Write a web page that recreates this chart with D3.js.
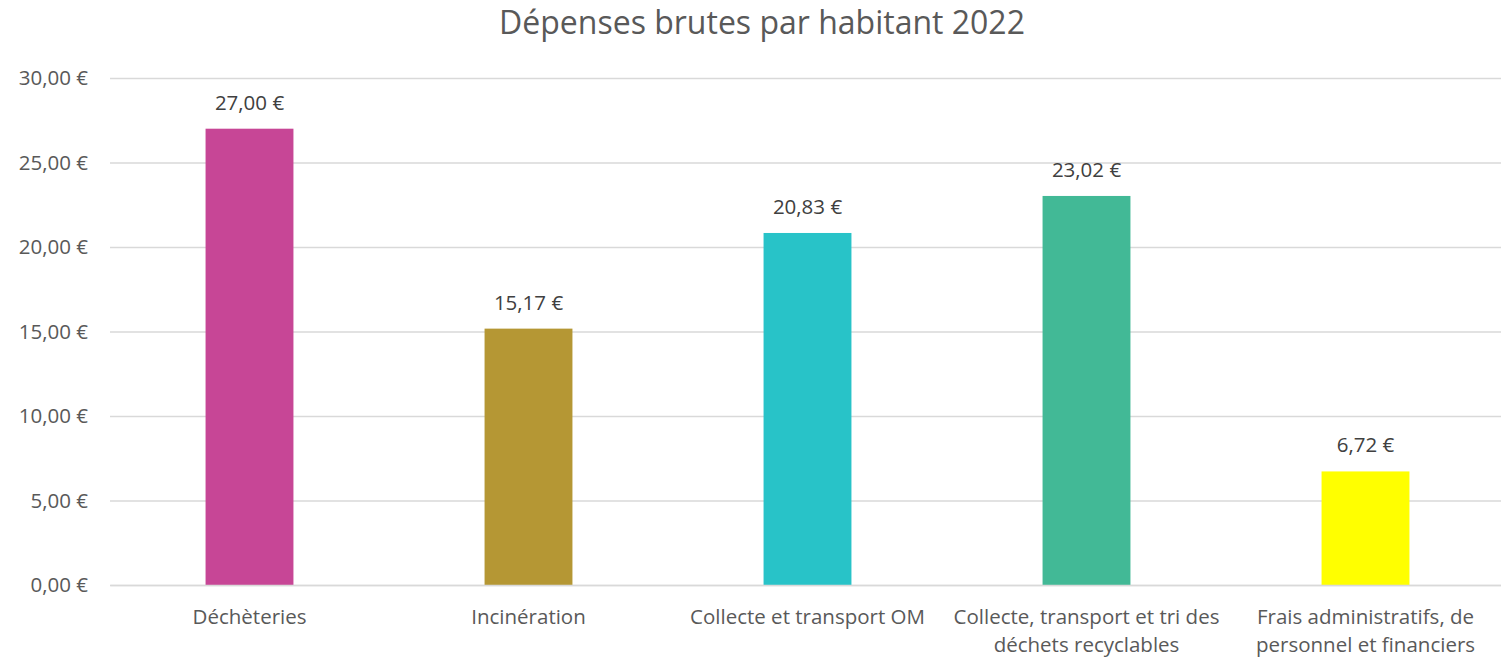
<!DOCTYPE html>
<html>
<head>
<meta charset="utf-8">
<script src="https://cdn.jsdelivr.net/npm/d3@7"></script>
<style>
  html, body { margin: 0; padding: 0; background: #fff; }
  svg text { font-family: "Open Sans", "Liberation Sans", sans-serif; }
</style>
</head>
<body>
<svg id="chart" width="1501" height="658"></svg>
<script>
// Gross spending per inhabitant, 2022
const categories = [
  ["Déchèteries"],
  ["Incinération"],
  ["Collecte et transport OM"],
  ["Collecte, transport et tri des", "déchets recyclables"],
  ["Frais administratifs, de", "personnel et financiers"]
];
const values = [27.00, 15.17, 20.83, 23.02, 6.72];
const colors = ["#C74696", "#B59734", "#28C3C8", "#42B996", "#FFFF00"];
const yTicks = [0, 5, 10, 15, 20, 25, 30];
const title = "Dépenses brutes par habitant 2022";

const svg = d3.select("#chart");
const plot = { left: 110, right: 1505, top: 78, bottom: 585 };
const labelSize = 20.5;

const fmt = v => d3.format(".2f")(v).replace(".", ",") + " €";

const x = d3.scaleBand()
  .domain(d3.range(values.length))
  .range([plot.left, plot.right])
  .paddingInner(0.685)
  .paddingOuter(0.3425);

const y = d3.scaleLinear().domain([0, 30]).range([plot.bottom, plot.top]);

// title
svg.append("text")
  .attr("x", 762).attr("y", 34)
  .attr("text-anchor", "middle")
  .attr("fill", "#595959")
  .attr("font-size", 32)
  .text(title);

// gridlines + y labels
const yAxis = d3.axisLeft(y).tickValues(yTicks).tickSize(-(plot.right - plot.left)).tickFormat(fmt);
const gy = svg.append("g").attr("transform", `translate(${plot.left},0)`).call(yAxis);
gy.select(".domain").remove();
gy.selectAll(".tick line").attr("stroke", "#D9D9D9").attr("stroke-width", 1.5);
gy.selectAll(".tick text")
  .attr("x", -22)
  .attr("fill", "#595959")
  .attr("font-size", labelSize);

// bars
svg.append("g").selectAll("rect")
  .data(values)
  .join("rect")
  .attr("x", (d, i) => x(i))
  .attr("width", x.bandwidth())
  .attr("y", d => y(d))
  .attr("height", d => y(0) - y(d))
  .attr("fill", (d, i) => colors[i]);

// value labels
svg.append("g").selectAll("text")
  .data(values)
  .join("text")
  .attr("x", (d, i) => x(i) + x.bandwidth() / 2)
  .attr("y", d => y(d) - 19)
  .attr("text-anchor", "middle")
  .attr("fill", "#404040")
  .attr("font-size", labelSize)
  .text(d => fmt(d));

// category labels
const xAxis = d3.axisBottom(x).tickSize(0).tickFormat("");
const gx = svg.append("g").attr("transform", `translate(0,${plot.bottom})`).call(xAxis);
gx.select(".domain").attr("stroke", "#D9D9D9").attr("stroke-width", 1.5);
gx.selectAll(".tick").each(function(i) {
  const t = d3.select(this).append("text")
    .attr("text-anchor", "middle")
    .attr("fill", "#595959")
    .attr("font-size", labelSize)
    .attr("y", 39);
  categories[i].forEach((line, k) => {
    t.append("tspan").attr("x", 0).attr("dy", k === 0 ? 0 : 28).text(line);
  });
});
</script>
</body>
</html>
